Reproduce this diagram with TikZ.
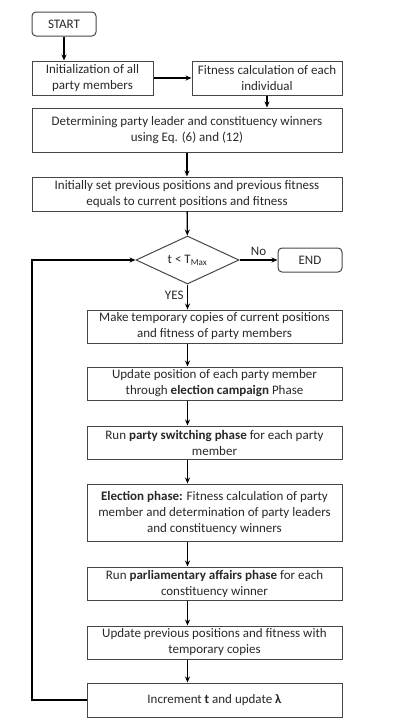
\documentclass[tikz,border=0pt]{standalone}
\usepackage{fontspec}
\setmainfont{Carlito}
\usetikzlibrary{arrows.meta,shapes.geometric}
\definecolor{ln}{RGB}{70,70,70}
\definecolor{tx}{RGB}{40,40,40}
\tikzset{blk/.style={draw=ln,line width=1pt,align=center,inner sep=1pt,minimum height=33pt,text=tx,font=\fontsize{13}{16}\selectfont},
 term/.style={blk,rounded corners=4pt,minimum width=64pt,minimum height=24pt},
 dec/.style={blk,shape=diamond,aspect=2.15,minimum width=103pt,minimum height=48pt,inner sep=0pt},
 arr/.style={-{Stealth[length=6pt,width=5pt]},line width=1.3pt},
 lbl/.style={text=tx,font=\fontsize{13}{16}\selectfont}}
\begin{document}
\begin{tikzpicture}[x=1pt,y=-1pt]
\useasboundingbox (0,0) rectangle (416,728);
\node[term] (start) at (64,24) {START};
\node[blk,minimum width=121pt,minimum height=34pt] (init) at (92.5,78) {Initialization of all\\party members};
\node[blk,minimum width=150pt,minimum height=34pt] (fit) at (267,78) {Fitness calculation of each\\individual};
\node[blk,minimum width=310pt,minimum height=44pt] (det) at (187,130) {Determining party leader and constituency winners\\using Eq. (6) and (12)};
\node[blk,minimum width=310pt,minimum height=34pt] (iset) at (187,194) {Initially set previous positions and previous fitness\\equals to current positions and fitness};
\node[dec] (cond) at (187.5,260) {t < T\textsubscript{Max}};
\node[term] (end) at (310,260) {END};
\node[blk,minimum width=255pt] (copy) at (214.5,326.5) {Make temporary copies of current positions\\and fitness of party members};
\node[blk,minimum width=255pt] (camp) at (214.5,383.5) {Update position of each party member\\through \textbf{election campaign} Phase};
\node[blk,minimum width=255pt] (swit) at (214.5,442.5) {Run \textbf{party switching phase} for each party\\member};
\node[blk,minimum width=255pt,minimum height=57pt] (elec) at (214.5,512.5) {\textbf{Election phase:} Fitness calculation of party\\member and determination of party leaders\\and constituency winners};
\node[blk,minimum width=255pt] (parl) at (214.5,583.5) {Run \textbf{parliamentary affairs phase} for each\\constituency winner};
\node[blk,minimum width=255pt] (prev) at (214.5,642.5) {Update previous positions and fitness with\\temporary copies};
\node[blk,minimum width=255pt,minimum height=34pt] (incr) at (214.5,700) {Increment \textbf{t} and update \textbf{λ}};
\coordinate (back) at (32,700);
% main flow
\draw[arr] (start) -- (init.north -| start);
\draw[arr] (init) -- (fit);
\draw[arr] (fit) -- (det.north -| fit);
\draw[arr] (det) -- (iset);
\draw[arr] (iset) -- (cond);
\draw[arr] (cond) -- node[lbl,above] {No} (end);
\draw[arr] (cond) -- node[lbl,left,pos=.45] {YES} (copy.north -| cond);
\draw[arr] (copy.south -| cond) -- (camp.north -| cond);
\draw[arr] (camp.south -| cond) -- (swit.north -| cond);
\draw[arr] (swit.south -| cond) -- (elec.north -| cond);
\draw[arr] (elec.south -| cond) -- (parl.north -| cond);
\draw[arr] (parl.south -| cond) -- (prev.north -| cond);
\draw[arr] (prev.south -| cond) -- (incr.north -| cond);
% loop back
\draw[arr] (incr.west) -- (back) |- (cond.west);
\end{tikzpicture}
\end{document}
